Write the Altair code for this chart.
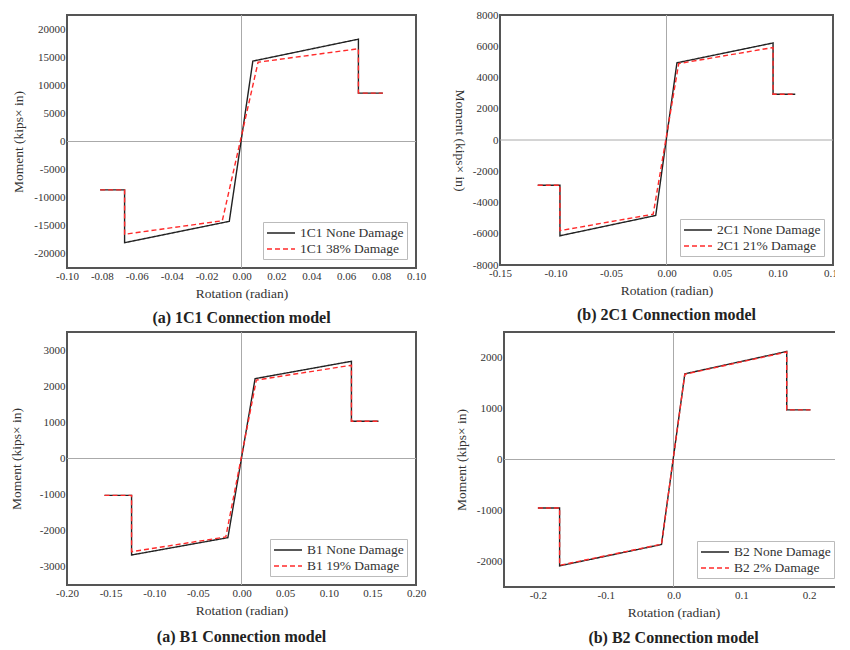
import altair as alt
import pandas as pd

# ---------------- data ----------------
# 1C1
c1_none_x = [-0.081, -0.067, -0.067, -0.007, 0.0065, 0.067, 0.067, 0.081]
c1_none_y = [-8600, -8600, -18000, -14200, 14300, 18200, 8600, 8600]
c1_dmg_x = [-0.081, -0.067, -0.067, -0.011, 0.0095, 0.067, 0.067, 0.081]
c1_dmg_y = [-8600, -8600, -16500, -14100, 14100, 16500, 8600, 8600]
c1_labels = ["1C1 None Damage", "1C1 38% Damage"]
c1_xticks = [-0.10, -0.08, -0.06, -0.04, -0.02, 0.0, 0.02, 0.04, 0.06, 0.08, 0.10]
c1_yticks = [-20000, -15000, -10000, -5000, 0, 5000, 10000, 15000, 20000]

# 2C1
c2_none_x = [-0.116, -0.096, -0.096, -0.0097, 0.0094, 0.096, 0.096, 0.116]
c2_none_y = [-2900, -2900, -6130, -4830, 4940, 6210, 2930, 2930]
c2_dmg_x = [-0.116, -0.096, -0.096, -0.012, 0.011, 0.096, 0.096, 0.116]
c2_dmg_y = [-2900, -2900, -5800, -4750, 4890, 5920, 2930, 2930]
c2_labels = ["2C1 None Damage", "2C1 21% Damage"]
c2_xticks = [-0.15, -0.10, -0.05, 0.0, 0.05, 0.10, 0.15]
c2_yticks = [-8000, -6000, -4000, -2000, 0, 2000, 4000, 6000, 8000]

# B1
b1_none_x = [-0.157, -0.126, -0.126, -0.0156, 0.0156, 0.126, 0.126, 0.157]
b1_none_y = [-1020, -1020, -2670, -2190, 2210, 2690, 1030, 1030]
b1_dmg_x = [-0.157, -0.126, -0.126, -0.018, 0.017, 0.126, 0.126, 0.157]
b1_dmg_y = [-1020, -1020, -2580, -2170, 2170, 2580, 1030, 1030]
b1_labels = ["B1 None Damage", "B1 19% Damage"]
b1_xticks = [-0.20, -0.15, -0.10, -0.05, 0.0, 0.05, 0.10, 0.15, 0.20]
b1_yticks = [-3000, -2000, -1000, 0, 1000, 2000, 3000]

# B2
b2_none_x = [-0.200, -0.168, -0.168, -0.0177, 0.0167, 0.167, 0.167, 0.202]
b2_none_y = [-950, -950, -2085, -1667, 1680, 2118, 974, 974]
b2_dmg_x = [-0.200, -0.168, -0.168, -0.0177, 0.0167, 0.167, 0.167, 0.202]
b2_dmg_y = [-950, -950, -2075, -1660, 1672, 2108, 974, 974]
b2_labels = ["B2 None Damage", "B2 2% Damage"]
b2_xticks = [-0.2, -0.1, 0.0, 0.1, 0.2]
b2_yticks = [-2000, -1000, 0, 1000, 2000]

SERIF = "Liberation Serif"
MINUS = "\u2212"


def panel(nx, ny, dx, dy, labels, xdom, ydom, xticks, yticks, xdec, title,
          width, height, ytitle_angle=270, ytitle_pad=12, title_off=14, xtitle_pad=5):
    rows = []
    for i, (x, y) in enumerate(zip(nx, ny)):
        rows.append({"x": x, "y": y, "series": labels[0], "o": i})
    for i, (x, y) in enumerate(zip(dx, dy)):
        rows.append({"x": x, "y": y, "series": labels[1], "o": i + 100})
    df = pd.DataFrame(rows)

    xaxis = alt.Axis(
        values=xticks, title="Rotation (radian)", grid=False, domain=False,
        ticks=False, labelPadding=2, labelFont=SERIF, labelFontSize=11,
        labelColor="#333", titleFont=SERIF, titleFontSize=13.5,
        titleFontWeight="normal", titleColor="#333", titlePadding=xtitle_pad,
        labelExpr=f"replace(format(datum.value, '.{xdec}f'), '{MINUS}', '-')",
        labelFlush=False, labelOverlap=False,
    )
    yaxis = alt.Axis(
        values=yticks, title="Moment (kips\u00d7 in)", grid=False, domain=False,
        ticks=False, labelPadding=2, labelFont=SERIF, labelFontSize=11,
        labelColor="#333", titleFont=SERIF, titleFontSize=13.5,
        titleFontWeight="normal", titleColor="#333", titlePadding=ytitle_pad,
        titleAngle=ytitle_angle,
        labelExpr=f"replace(format(datum.value, 'd'), '{MINUS}', '-')",
        labelFlush=False, labelOverlap=False,
    )
    legend = alt.Legend(
        title=None, orient="bottom-right", offset=9, strokeColor="#bbb",
        padding=3, labelFont=SERIF, labelFontSize=13.5, labelColor="#333",
        symbolSize=196, symbolStrokeWidth=1.5, rowPadding=1,
        labelLimit=300, symbolType="M-2,0H2", symbolOffset=7, labelOffset=11,
    )
    zero = pd.DataFrame({"z": [0]})
    vr = alt.Chart(zero).mark_rule(color="#aaa", strokeWidth=1).encode(
        x=alt.X("z:Q", scale=alt.Scale(domain=xdom, nice=False, zero=False), axis=xaxis))
    hr = alt.Chart(zero).mark_rule(color="#aaa", strokeWidth=1).encode(
        y=alt.Y("z:Q", scale=alt.Scale(domain=ydom, nice=False, zero=False), axis=yaxis))
    lines = alt.Chart(df).mark_line(strokeWidth=1.4).encode(
        x=alt.X("x:Q", scale=alt.Scale(domain=xdom, nice=False, zero=False), axis=xaxis),
        y=alt.Y("y:Q", scale=alt.Scale(domain=ydom, nice=False, zero=False), axis=yaxis),
        color=alt.Color("series:N", sort=labels,
                        scale=alt.Scale(domain=labels, range=["#222222", "#ff2a2a"]),
                        legend=legend),
        strokeDash=alt.StrokeDash("series:N", sort=labels,
                                  scale=alt.Scale(domain=labels, range=[[1, 0], [5, 3]]),
                                  legend=legend),
        order="o:Q",
    )
    return alt.layer(vr, hr, lines).properties(
        width=width, height=height,
        title=alt.TitleParams(text=title, orient="bottom", font=SERIF, fontSize=16,
                              fontWeight="bold", color="#222", offset=title_off),
    )


p1 = panel(c1_none_x, c1_none_y, c1_dmg_x, c1_dmg_y, c1_labels, [-0.1, 0.1],
           [-22500, 22500], c1_xticks, c1_yticks, 2, "(a) 1C1 Connection model", 349, 253,
           ytitle_pad=8, title_off=10)
p2 = panel(c2_none_x, c2_none_y, c2_dmg_x, c2_dmg_y, c2_labels, [-0.15, 0.15],
           [-8000, 8000], c2_xticks, c2_yticks, 2, "(b) 2C1 Connection model", 333, 250,
           ytitle_angle=90, ytitle_pad=20, title_off=10)
p3 = panel(b1_none_x, b1_none_y, b1_dmg_x, b1_dmg_y, b1_labels, [-0.2, 0.2],
           [-3500, 3500], b1_xticks, b1_yticks, 2, "(a) B1 Connection model", 349, 253,
           ytitle_pad=16, title_off=12)
p4 = panel(b2_none_x, b2_none_y, b2_dmg_x, b2_dmg_y, b2_labels, [-0.25, 0.25],
           [-2500, 2500], b2_xticks, b2_yticks, 1, "(b) B2 Connection model", 339, 255,
           ytitle_pad=8, title_off=11)

row1 = alt.hconcat(p1, p2, spacing=24).resolve_scale(color="independent", strokeDash="independent", x="independent", y="independent")
row2 = alt.hconcat(p3, p4, spacing=26).resolve_scale(color="independent", strokeDash="independent", x="independent", y="independent")

chart = alt.vconcat(row1, row2, spacing=3).resolve_scale(
    color="independent", strokeDash="independent", x="independent", y="independent"
).properties(
    padding={"top": 0, "bottom": 0, "left": 0, "right": -10}
).configure(background="white", font=SERIF).configure_view(stroke="#555", strokeWidth=2)

chart.save("out.html", embed_options={"renderer": "svg", "actions": False})
